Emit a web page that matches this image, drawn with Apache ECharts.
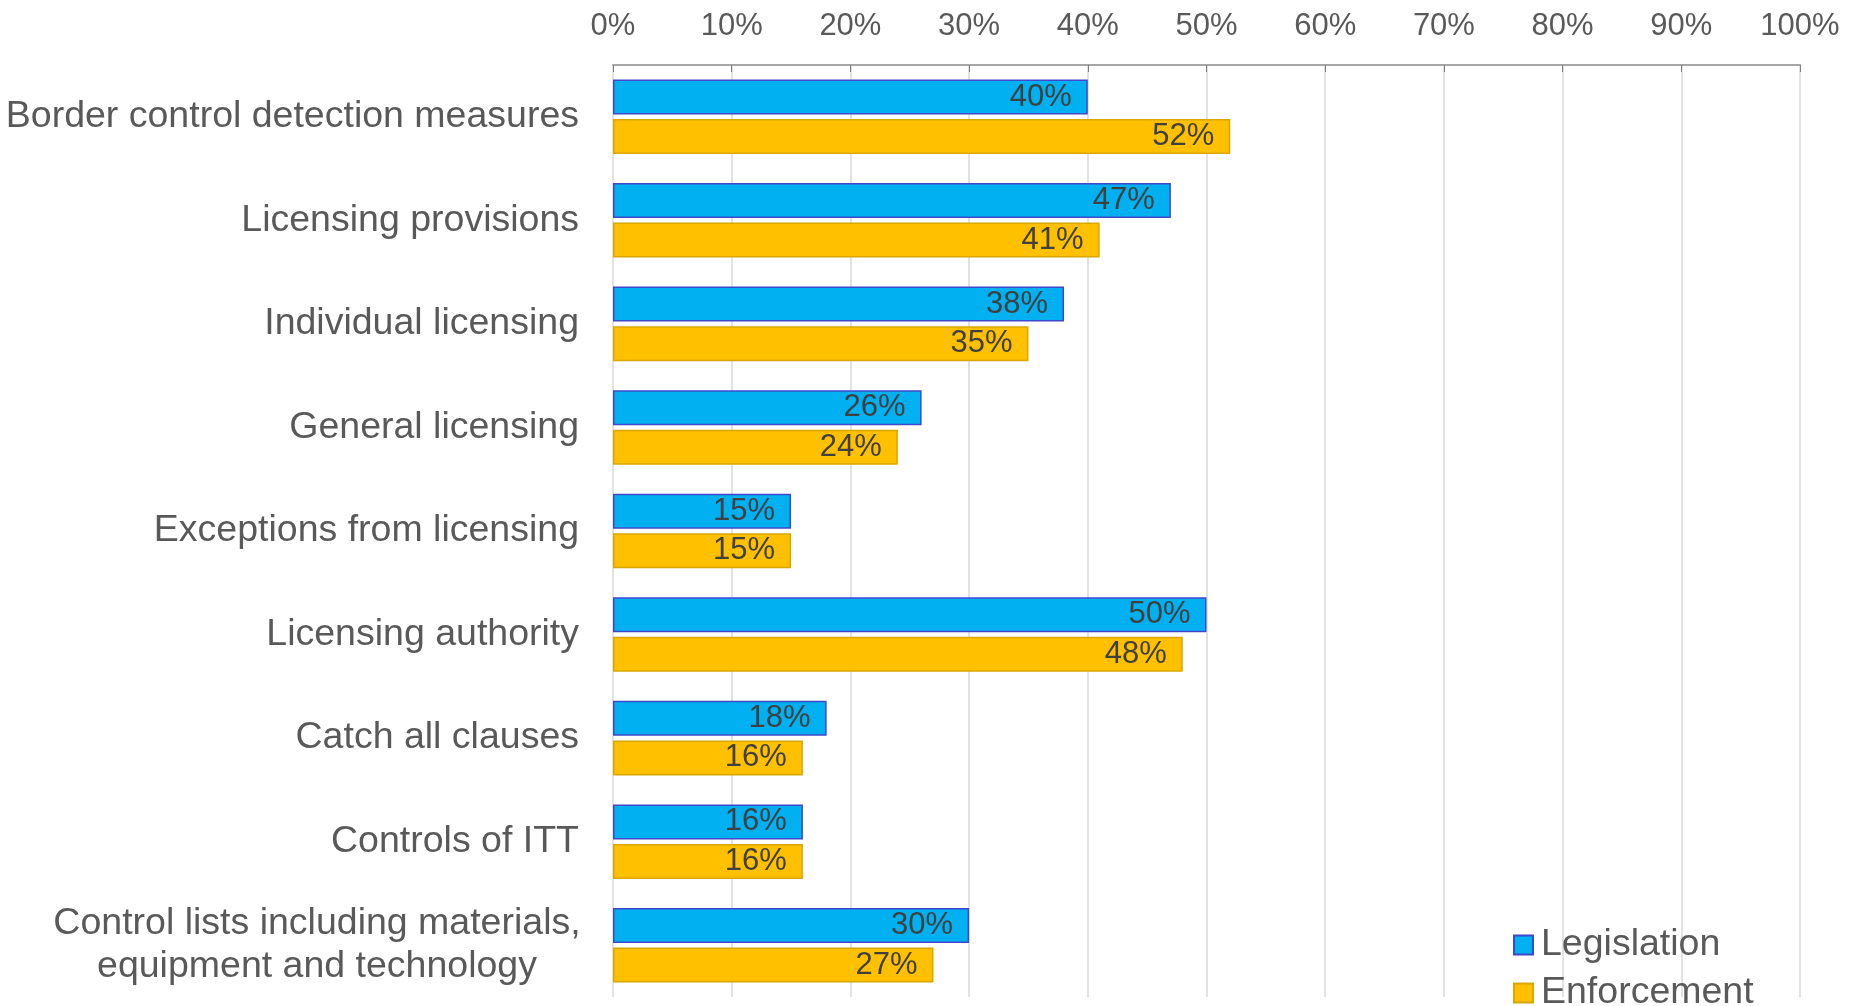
<!DOCTYPE html>
<html>
<head>
<meta charset="utf-8">
<script src="https://cdn.jsdelivr.net/npm/echarts@6/dist/echarts.min.js"></script>
<style>
html,body{margin:0;padding:0;background:#fff;}
#chart{width:1858px;height:1006px;}
</style>
</head>
<body>
<div id="chart"></div>
<script>
const categories = [
  'Border control detection measures',
  'Licensing provisions',
  'Individual licensing',
  'General licensing',
  'Exceptions from licensing',
  'Licensing authority',
  'Catch all clauses',
  'Controls of ITT',
  'Control lists including materials, equipment and technology'
];
const legislation = [40, 47, 38, 26, 15, 50, 18, 16, 30];
const enforcement = [52, 41, 35, 24, 15, 48, 16, 16, 27];
const tickValues = [0, 10, 20, 30, 40, 50, 60, 70, 80, 90, 100];
const seriesNames = ['Legislation', 'Enforcement'];

const FONT = '"Liberation Sans", Arial, sans-serif';
const chart = echarts.init(document.getElementById('chart'));

const labelStyle = {
  show: true,
  position: 'insideRight',
  distance: 16,
  formatter: '{c}%',
  color: '#404040',
  fontSize: 31,
  fontFamily: FONT
};

function legendFor(name, centerY) {
  return {
    orient: 'vertical',
    left: 1508,
    top: centerY - 24,
    padding: 5,
    itemWidth: 19,
    itemHeight: 19,
    itemGap: 6,
    icon: 'rect',
    textStyle: { fontSize: 37.5, color: '#595959', fontFamily: FONT, lineHeight: 38, padding: [0, 0, 0, 3] },
    data: [name]
  };
}

chart.setOption({
  animation: false,
  backgroundColor: '#ffffff',
  textStyle: { fontFamily: FONT },
  grid: { left: 613, right: 58, top: 65, bottom: 9, containLabel: false },
  legend: [legendFor(seriesNames[0], 945), legendFor(seriesNames[1], 993)],
  xAxis: {
    type: 'value',
    position: 'top',
    min: tickValues[0],
    max: tickValues[tickValues.length - 1],
    interval: 10,
    axisLine: { show: true, lineStyle: { color: '#A6A6A6', width: 2 } },
    axisTick: { show: true, inside: true, length: 7, lineStyle: { color: '#808080', width: 1 } },
    splitLine: { show: true, lineStyle: { color: '#D9D9D9', width: 1.5 } },
    axisLabel: { formatter: '{value}%', fontSize: 31, color: '#595959', fontFamily: FONT, margin: 23 }
  },
  yAxis: {
    type: 'category',
    inverse: true,
    data: categories,
    axisLine: { show: false },
    axisTick: { show: false },
    axisLabel: {
      fontSize: 37.5,
      color: '#595959',
      fontFamily: FONT,
      margin: 34,
      formatter: function (v) {
        if (v.indexOf('Control lists') === 0) {
          return '{c|Control lists including materials,}\n{c|equipment and technology}';
        }
        return v;
      },
      rich: {
        c: { fontSize: 37.5, color: '#595959', fontFamily: FONT, width: 524, align: 'center', lineHeight: 43 }
      }
    }
  },
  series: [
    {
      name: seriesNames[0],
      type: 'bar',
      data: legislation,
      barWidth: 35,
      barGap: '13%',
      itemStyle: { color: '#00B0F0', borderColor: '#3F48CC', borderWidth: 1.5 },
      label: labelStyle
    },
    {
      name: seriesNames[1],
      type: 'bar',
      data: enforcement,
      barWidth: 35,
      barGap: '13%',
      itemStyle: { color: '#FFC000', borderColor: '#D9A800', borderWidth: 1.5 },
      label: labelStyle
    }
  ]
});
</script>
</body>
</html>
